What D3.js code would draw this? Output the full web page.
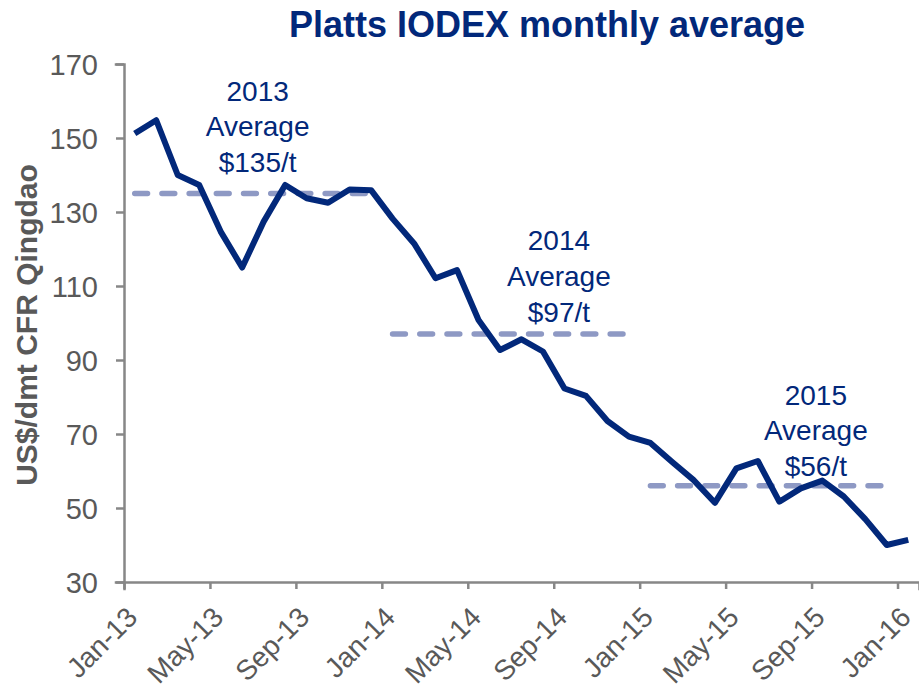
<!DOCTYPE html>
<html>
<head>
<meta charset="utf-8">
<script src="https://cdn.jsdelivr.net/npm/d3@7"></script>
<style>
  body { margin: 0; background: #fff; }
  text { font-family: "Liberation Sans", Arial, sans-serif; }
  .axis path, .axis line { stroke: #878787; stroke-width: 2.5; }
  .axis text { fill: #595959; }
</style>
</head>
<body>
<div id="chart"></div>
<script>
'use strict';

const months = [
  "Jan-13","Feb-13","Mar-13","Apr-13","May-13","Jun-13","Jul-13","Aug-13","Sep-13","Oct-13","Nov-13","Dec-13",
  "Jan-14","Feb-14","Mar-14","Apr-14","May-14","Jun-14","Jul-14","Aug-14","Sep-14","Oct-14","Nov-14","Dec-14",
  "Jan-15","Feb-15","Mar-15","Apr-15","May-15","Jun-15","Jul-15","Aug-15","Sep-15","Oct-15","Nov-15","Dec-15",
  "Jan-16"
];

const iodex = [
  151.2, 154.8, 140.0, 137.3, 124.7, 115.0, 127.4, 137.3, 133.7, 132.5, 136.1, 135.9,
  128.2, 121.5, 112.1, 114.3, 100.8, 92.7, 95.6, 92.3, 82.3, 80.3, 73.5, 69.3,
  67.6, 62.5, 57.6, 51.4, 60.7, 62.7, 51.7, 55.3, 57.4, 53.1, 47.0, 40.0,
  41.4
];

const xTickLabels = ["Jan-13","May-13","Sep-13","Jan-14","May-14","Sep-14","Jan-15","May-15","Sep-15","Jan-16"];
const yTicks = [30, 50, 70, 90, 110, 130, 150, 170];

const avgYears = ["2013", "2014", "2015"];
const avgValues = [135, 97, 56];
const avgLabels = ["$135/t", "$97/t", "$56/t"];
const avgFirstMonth = ["Jan-13", "Jan-14", "Jan-15"];
const avgLastMonth = ["Dec-13", "Dec-14", "Dec-15"];

const W = 919, H = 691;
const margin = { top: 64, right: 0, bottom: 109, left: 124 };
const width = W - margin.left - margin.right;
const height = H - margin.top - margin.bottom;

const navy = "#02287a";

const svg = d3.select("#chart").append("svg")
  .attr("width", W)
  .attr("height", H);

// month index -> centre of its slot (Excel date axis, between tick marks)
const xScale = d3.scaleLinear().domain([-0.5, months.length - 0.5]).range([0, width]);
const yScale = d3.scaleLinear().domain([30, 170]).range([height, 0]);

const graph = svg.append("g")
  .attr("transform", "translate(" + margin.left + "," + margin.top + ")");

svg.append("text")
  .attr("x", 547)
  .attr("y", 37)
  .attr("text-anchor", "middle")
  .style("font-size", "36px")
  .style("font-weight", "bold")
  .style("fill", navy)
  .text("Platts IODEX monthly average");

svg.append("text")
  .attr("transform", "translate(37," + (margin.top + height / 2 + 2) + ") rotate(-90)")
  .attr("text-anchor", "middle")
  .style("font-size", "30px")
  .style("font-weight", "bold")
  .style("fill", "#595959")
  .text("US$/dmt CFR Qingdao");

// axes
const yAxis = d3.axisLeft(yScale)
  .tickValues(yTicks)
  .tickSize(8)
  .tickPadding(18);

graph.append("g")
  .attr("class", "y axis")
  .call(yAxis)
  .call(g => g.selectAll("text").style("font-size", "29px").attr("dy", "0.36em"));

const tickIdx = xTickLabels.map(l => months.indexOf(l) - 0.5);

const xAxis = d3.axisBottom(xScale)
  .tickValues(tickIdx)
  .tickSize(7)
  .tickFormat("");

const xg = graph.append("g")
  .attr("class", "x axis")
  .attr("transform", "translate(0," + height + ")")
  .call(xAxis);

graph.selectAll(".domain").attr("stroke-linecap", "square");

xg.selectAll(".xlabel")
  .data(xTickLabels)
  .enter().append("text")
  .attr("class", "xlabel")
  .attr("text-anchor", "end")
  .attr("transform", (d, i) => "translate(" + (xScale(tickIdx[i]) + 15) + ",37) rotate(-45)")
  .style("font-size", "28px")
  .style("fill", "#595959")
  .text(d => d);

// yearly averages
graph.selectAll(".avg")
  .data(avgValues)
  .enter().append("line")
  .attr("class", "avg")
  .attr("x1", (d, i) => xScale(months.indexOf(avgFirstMonth[i])))
  .attr("x2", (d, i) => xScale(months.indexOf(avgLastMonth[i])))
  .attr("y1", d => yScale(d))
  .attr("y2", d => yScale(d))
  .attr("stroke", "#8e99c4")
  .attr("stroke-width", 5.5)
  .attr("stroke-linecap", "round")
  .attr("stroke-dasharray", "12.8,14.4");

// monthly line
const line = d3.line()
  .x((d, i) => xScale(i))
  .y(d => yScale(d));

graph.append("path")
  .datum(iodex)
  .attr("fill", "none")
  .attr("stroke", navy)
  .attr("stroke-width", 6)
  .attr("stroke-linejoin", "round")
  .attr("d", line);

// annotation placement (month index of centre, value at last baseline)
const notePos = [[5.72, 140.8], [19.74, 100.3], [31.7, 58.6]];

avgYears.forEach((yr, i) => {
  const t = graph.append("text")
    .attr("text-anchor", "middle")
    .attr("x", xScale(notePos[i][0]))
    .attr("y", yScale(notePos[i][1]))
    .style("font-size", "28px")
    .style("fill", navy);
  [yr, "Average", avgLabels[i]].forEach((s, k) => {
    t.append("tspan")
      .attr("x", xScale(notePos[i][0]))
      .attr("dy", k === 0 ? "-2.55em" : "1.275em")
      .text(s);
  });
});
</script>
</body>
</html>
